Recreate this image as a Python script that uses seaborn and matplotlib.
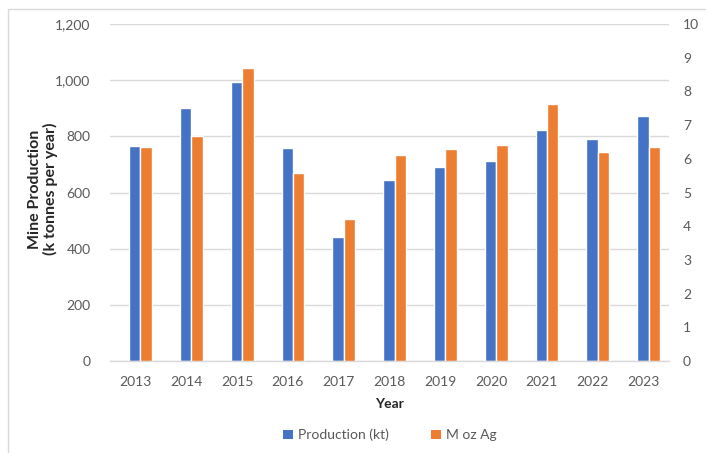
import matplotlib
matplotlib.use("Agg")
import matplotlib.pyplot as plt
from matplotlib.patches import Rectangle, Patch
import seaborn as sns
import pandas as pd

years = ["2013", "2014", "2015", "2016", "2017", "2018", "2019", "2020", "2021", "2022", "2023"]
production_kt = [766, 900, 993, 759, 443, 646, 692, 713, 824, 789, 874]
silver_moz = [6.34, 6.69, 8.70, 5.57, 4.21, 6.12, 6.30, 6.40, 7.64, 6.19, 6.35]
series = ["Production (kt)", "M oz Ag"]
colors = ["#4472C4", "#ED7D31"]

sns.set_theme(style="white")
plt.rcParams["font.family"] = ["Lato", "DejaVu Sans"]
text_color = "#595959"
grid_color = "#D9D9D9"

prod_df = pd.DataFrame({"Year": years, "value": production_kt, "Series": series[0]})
ag_df = pd.DataFrame({"Year": years, "value": silver_moz, "Series": series[1]})

fig = plt.figure(figsize=(7.06, 4.53), dpi=100)
W, H = 706, 453
ax = fig.add_axes([110 / W, 1 - 361 / H, (669 - 110) / W, (361 - 24) / H])
ax2 = ax.twinx()

palette = dict(zip(series, colors))
sns.barplot(data=prod_df, x="Year", y="value", hue="Series", hue_order=series,
            palette=palette, width=0.45, gap=0, dodge=True, saturation=1,
            ax=ax, legend=False, order=years)
sns.barplot(data=ag_df, x="Year", y="value", hue="Series", hue_order=series,
            palette=palette, width=0.45, gap=0, dodge=True, saturation=1,
            ax=ax2, legend=False, order=years)

# the bar pairs sit slightly right of each category centre
for p in list(ax.patches) + list(ax2.patches):
    p.set_x(p.get_x() + 0.1)

ax.set_ylim(0, 1200)
ax.set_yticks(range(0, 1201, 200))
ax.set_yticklabels([f"{v:,}" for v in range(0, 1201, 200)])
ax2.set_ylim(0, 10)
ax2.set_yticks(range(0, 11))
ax.set_xlim(-0.5, len(years) - 0.5)

ax.yaxis.grid(True, color=grid_color, linewidth=1)
ax.set_axisbelow(True)
ax2.grid(False)
for a in (ax, ax2):
    for s in a.spines.values():
        s.set_visible(False)
ax.spines["bottom"].set_visible(True)
ax.spines["bottom"].set_color(grid_color)
ax.spines["bottom"].set_linewidth(1)
ax.tick_params(axis="x", length=0, labelsize=10, colors=text_color, pad=11)
ax.tick_params(axis="y", length=0, labelsize=10, colors=text_color, pad=14)
ax2.tick_params(axis="y", length=0, labelsize=10, colors=text_color, pad=10)
ax2.set_ylabel("")

ax.set_xlabel("Year", fontsize=10, fontweight="bold", color="#262626", labelpad=7)
ax.set_ylabel("Mine Production\n(k tonnes per year)", fontsize=11.5, fontweight="bold",
              color="#262626", linespacing=1.15, va="center", ha="center")
ax.yaxis.set_label_coords((43 - 110) / 559, 0.51)

handles = [Patch(facecolor=c, edgecolor="none", label=s) for s, c in zip(series, colors)]
fig.legend(handles=handles, loc="center", bbox_to_anchor=(390 / W, 1 - 435 / H), ncol=2,
           frameon=False, fontsize=10, handlelength=0.7, handleheight=0.7,
           columnspacing=3.0, handletextpad=0.4, labelcolor=text_color)

fig.patches.append(Rectangle((8 / W, -0.1), 1.2, 1 - 9 / H + 0.1, transform=fig.transFigure,
                             fill=False, edgecolor=grid_color, linewidth=1))

fig.savefig("out.png", dpi=100)
